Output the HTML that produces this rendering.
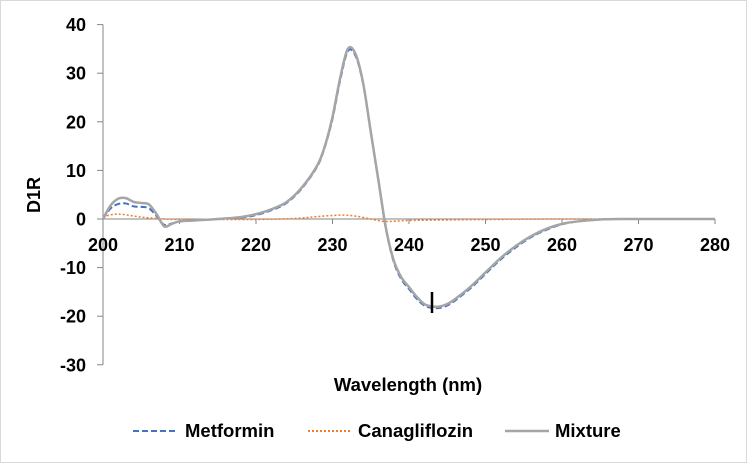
<!DOCTYPE html>
<html><head><meta charset="utf-8"><style>
body{margin:0;background:#fff;font-family:"Liberation Sans",Arial,sans-serif}
svg text{font-family:"Liberation Sans",Arial,sans-serif;font-weight:bold;fill:#000}
</style></head><body>
<svg id="chart" width="747" height="463" viewBox="0 0 747 463">
<rect x="0.5" y="0.5" width="746" height="462" fill="#fff" stroke="#d9d9d9"/>
<g id="axes"></g><g id="series"></g>
<line x1="432" y1="292" x2="432" y2="313" stroke="#000" stroke-width="2.5"/>
<text x="40" y="195" font-size="18" text-anchor="middle" transform="rotate(-90 40 195)">D1R</text>
<text x="408" y="391" font-size="18.5" text-anchor="middle">Wavelength (nm)</text>
<g>
<g><line x1="133" y1="431" x2="177" y2="431" stroke="#4472c4" stroke-width="2" stroke-dasharray="6,3"/><text x="185" y="437" font-size="18.5">Metformin</text></g>
<g><line x1="308" y1="431" x2="352" y2="431" stroke="#ed7d31" stroke-width="2" stroke-dasharray="2,2"/><text x="358" y="437" font-size="18.5">Canagliflozin</text></g>
<g><line x1="505" y1="431" x2="549" y2="431" stroke="#a5a5a5" stroke-width="2.5"/><text x="555" y="437" font-size="18.5">Mixture</text></g>
</g>
</svg>
<script>
const xTicks=[200,210,220,230,240,250,260,270,280];
const yTicks=[40,30,20,10,0,-10,-20,-30];
const mixX=[200,201,202,203,204,205,206,207,208,209,210,212,215,218,220,222,224,226,228,229,230,231,232,233,234,235,236,237,238,239,240,241,242,243,244,245,246,248,250,252,254,256,258,260,262,265,268,270,280];
const mixY=[0,2.8,4.2,4.3,3.5,3.3,3,1,-1.5,-1,-0.5,-0.3,0,0.4,1,2,3.5,6.5,11,15,21,29,35,34,28,18,8,-2,-8.5,-12,-14,-16,-17.5,-18,-18,-17.5,-16.5,-14,-11,-8,-5.5,-3.5,-2,-1,-0.5,-0.1,0,0,0];
const metY=[0,2.2,3.1,3.2,2.6,2.5,2.2,0.6,-1.2,-0.9,-0.5,-0.3,0,0.3,0.8,1.8,3.3,6.3,10.8,14.8,20.6,28.5,34.5,33.6,27.8,17.8,7.8,-2.2,-8.8,-12.4,-14.4,-16.4,-17.8,-18.3,-18.3,-17.8,-16.8,-14.3,-11.3,-8.3,-5.8,-3.7,-2.2,-1.1,-0.5,-0.1,0,0,0];
const canX=[200,202,205,208,210,215,220,225,228,231,233,235,237,240,245,250,260,280];
const canY=[0.5,1,0.4,0,-0.1,-0.1,-0.1,0.1,0.5,0.8,0.6,0,-0.5,-0.3,-0.2,-0.1,0,0];
const xs=v=>103+(v-200)*7.65, ys=v=>219-v*4.86;
const NS="http://www.w3.org/2000/svg";
const ax=document.getElementById('axes'), se=document.getElementById('series');
function mk(p,t,a){const e=document.createElementNS(NS,t);for(const k in a)e.setAttribute(k,a[k]);p.appendChild(e);return e;}
let l=mk(ax,'line',{x1:xs(200),y1:ys(40),x2:xs(200),y2:ys(-30),stroke:'#868686'});


l=mk(ax,'line',{x1:xs(200),y1:ys(0),x2:xs(280),y2:ys(0),stroke:'#868686'});


yTicks.forEach(v=>{mk(ax,'line',{x1:xs(200)-6,y1:ys(v),x2:xs(200),y2:ys(v),stroke:'#868686'});
const t=mk(ax,'text',{x:86,y:ys(v)+6.5,'font-size':18,'text-anchor':'end'});t.textContent=v;

});
xTicks.forEach(v=>{mk(ax,'line',{x1:xs(v),y1:ys(0),x2:xs(v),y2:ys(0)+5,stroke:'#868686'});
const t=mk(ax,'text',{x:xs(v),y:ys(0)+32,'font-size':18,'text-anchor':'middle'});t.textContent=v;

});
function path(X,Y){const P=X.map((x,i)=>[xs(x),ys(Y[i])]);let d='M'+P[0];
for(let i=0;i<P.length-1;i++){const p0=P[i-1]||P[i],p1=P[i],p2=P[i+1],p3=P[i+2]||p2;
const c1=[p1[0]+(p2[0]-p0[0])/6,p1[1]+(p2[1]-p0[1])/6],c2=[p2[0]-(p3[0]-p1[0])/6,p2[1]-(p3[1]-p1[1])/6];
d+='C'+c1+' '+c2+' '+p2;}return d;}
let s=mk(se,'path',{d:path(canX,canY),fill:'none',stroke:'#ed7d31','stroke-width':1.5,'stroke-dasharray':'2,2'});


s=mk(se,'path',{d:path(mixX,metY),fill:'none',stroke:'#4472c4','stroke-width':2,'stroke-dasharray':'6,3'});


s=mk(se,'path',{d:path(mixX,mixY),fill:'none',stroke:'#a5a5a5','stroke-width':2.5});


</script>
</body></html>
